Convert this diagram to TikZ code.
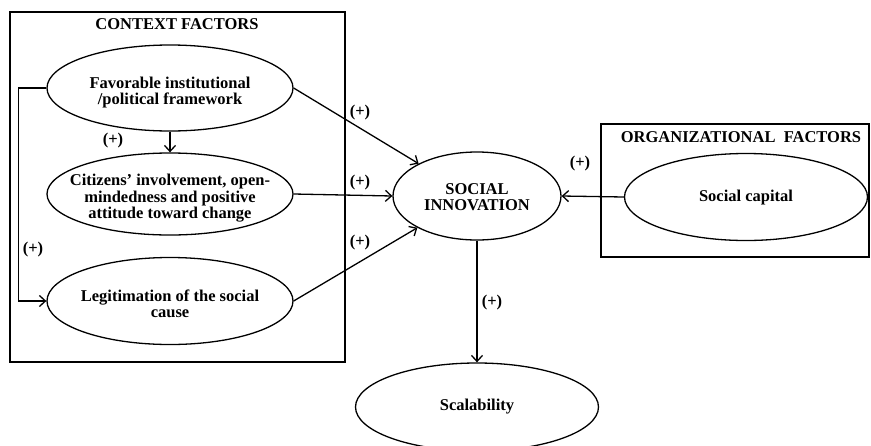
\documentclass[tikz,border=0pt]{standalone}
\usepackage{fontspec}
\setmainfont{Liberation Serif}
\usetikzlibrary{shapes.geometric,arrows.meta}
% centred multi-line text that does not widen its shape, set a little low
\newcommand{\mlines}[2][5pt]{\raisebox{-#1}[\height][\depth]{\makebox[0pt]{\begin{tabular}{@{}c@{}}#2\end{tabular}}}}
\begin{document}
\begin{tikzpicture}[x=1pt,y=-1pt,
  every node/.style={font=\bfseries\fontsize{16.5}{16.5}\selectfont},
  oval/.style={ellipse,draw,line width=1.3pt,inner sep=0pt},
  frame/.style={draw,line width=1.3pt},
  arr/.style={line width=1.3pt,-{Straight Barb[length=6pt,width=11pt]}},
  sign/.style={inner sep=0pt}]
\useasboundingbox (0,0) rectangle (871,445);

% group frames
\draw[frame] (10,12) rectangle (345,362);
\node (ctx) at (177,24) {CONTEXT FACTORS};
\draw[frame] (601,124) rectangle (869,257);
\node (org) at (741,137) {ORGANIZATIONAL\ \ FACTORS};

% constructs
\node[oval,minimum width=246,minimum height=86] (fav) at (170,88)
  {\mlines{Favorable institutional\\/political framework}};
\node[oval,minimum width=246,minimum height=82] (cit) at (170,194)
  {\mlines{Citizens’ involvement, open-\\mindedness and positive\\attitude toward change}};
\node[oval,minimum width=246,minimum height=87] (leg) at (170,301)
  {\mlines{Legitimation of the social\\cause}};
\node[oval,minimum width=168,minimum height=88] (si) at (477,196)
  {\mlines[3pt]{SOCIAL\\INNOVATION}};
\node[oval,minimum width=243,minimum height=87] (cap) at (746,197)
  {\mlines[1pt]{Social capital}};
\node[oval,minimum width=243,minimum height=88] (sca) at (477,407)
  {\mlines[0pt]{Scalability}};

% relations
\draw[arr] (fav.south) -- (cit.north);
\draw[arr] (fav.west) -- ++(-28,0) |- (leg.west);
\draw[arr] (fav.east) -- (si.151);
\draw[arr] (cit.east) -- (si.west);
\draw[arr] (leg.east) -- (si.208);
\draw[arr] (cap.west) -- (si.east);
\draw[arr] (si.south) -- (sca.north);

% signs
\node[sign] (p1) at (113,141) {(+)};
\node[sign] (p2) at (33,250) {(+)};
\node[sign] (p3) at (360,113) {(+)};
\node[sign] (p4) at (360,183) {(+)};
\node[sign] (p5) at (360,243) {(+)};
\node[sign] (p6) at (580,164) {(+)};
\node[sign] (p7) at (492,303) {(+)};
\end{tikzpicture}
\end{document}
